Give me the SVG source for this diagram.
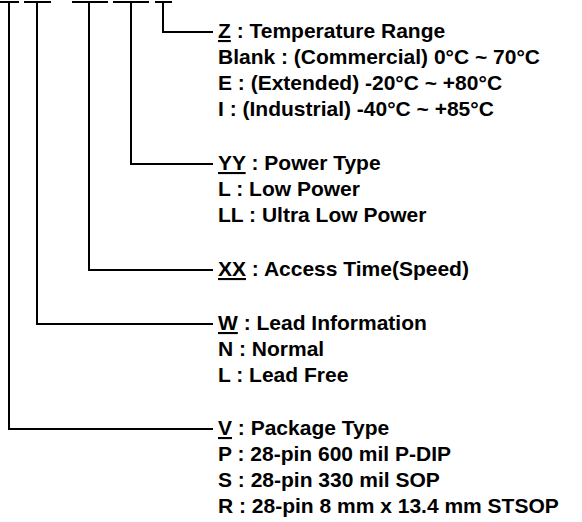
<svg xmlns="http://www.w3.org/2000/svg" width="582" height="522" viewBox="0 0 582 522">
<style>
.c{fill:none;stroke:#000;stroke-width:2;stroke-linecap:square}
text{font-family:"Liberation Sans",Arial,sans-serif;font-weight:bold;font-size:21px;fill:#000}
.u{text-decoration:underline}
</style>
<rect width="582" height="522" fill="#fff"/>
<g id="connectors">
<path class="c" d="M1 2H18M9 2V429H212"/>
<path class="c" d="M25 2H50M37 2V324H212"/>
<path class="c" d="M73 2H107M89 2V270H212"/>
<path class="c" d="M114 2H148M131 2V164H212"/>
<path class="c" d="M156 2H171M163 2V32H212"/>
</g>
<g id="z">
<text x="218" y="38"><tspan class="u">Z</tspan> : Temperature Range</text>
<text x="218" y="64">Blank : (Commercial) 0°C ~ 70°C</text>
<text x="218" y="90">E : (Extended) -20°C ~ +80°C</text>
<text x="218" y="116">I : (Industrial) -40°C ~ +85°C</text>
</g>
<g id="yy">
<text x="218" y="170"><tspan class="u">YY</tspan> : Power Type</text>
<text x="218" y="196">L : Low Power</text>
<text x="218" y="222">LL : Ultra Low Power</text>
</g>
<g id="xx">
<text x="218" y="276"><tspan class="u">XX</tspan> : Access Time(Speed)</text>
</g>
<g id="w">
<text x="218" y="330"><tspan class="u">W</tspan> : Lead Information</text>
<text x="218" y="356">N : Normal</text>
<text x="218" y="382">L : Lead Free</text>
</g>
<g id="v">
<text x="218" y="435"><tspan class="u">V</tspan> : Package Type</text>
<text x="218" y="461">P : 28-pin 600 mil P-DIP</text>
<text x="218" y="487">S : 28-pin 330 mil SOP</text>
<text x="218" y="513">R : 28-pin 8 mm x 13.4 mm STSOP</text>
</g>
</svg>
